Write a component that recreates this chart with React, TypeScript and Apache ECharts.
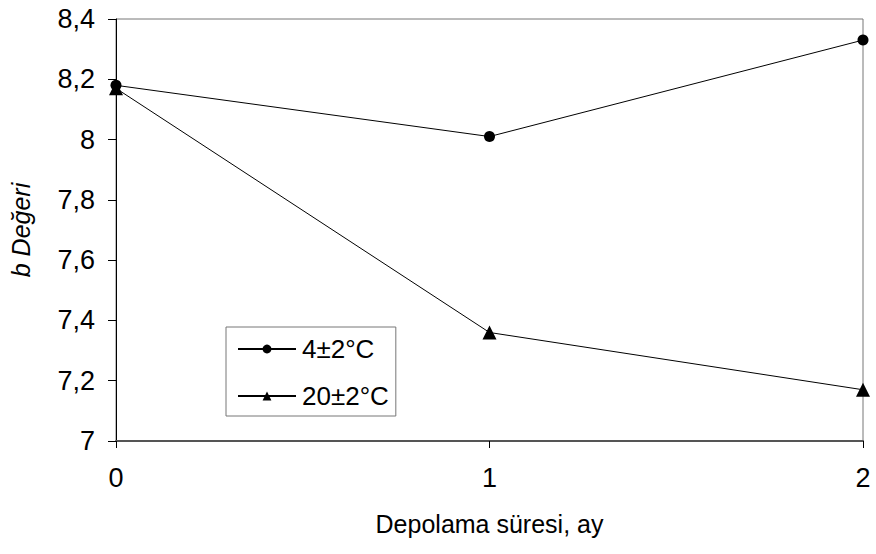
import React, { useEffect, useRef } from "react";
import * as echarts from "echarts";

const categories = ["0", "1", "2"];
const series4C = [8.18, 8.01, 8.33];
const series20C = [8.17, 7.36, 7.17];
const seriesNames = ["4±2°C", "20±2°C"];

const FONT = "Liberation Sans, Arial, sans-serif";

export default function App() {
  const ref = useRef<HTMLDivElement>(null);
  useEffect(() => {
    if (!ref.current) return;
    const chart = echarts.init(ref.current, undefined, { renderer: "svg" });
    chart.setOption({
      animation: false,
      backgroundColor: "#ffffff",
      textStyle: { fontFamily: FONT, color: "#000" },
      grid: {
        left: 116,
        right: 13,
        top: 19,
        bottom: 113,
        show: true,
        borderColor: "#777",
        borderWidth: 1,
      },
      legend: {
        left: 226,
        top: 327,
        orient: "vertical",
        itemWidth: 58,
        itemHeight: 11,
        itemGap: 21,
        padding: [9, 7, 7, 11],
        borderColor: "#777",
        borderWidth: 1,
        textStyle: { fontFamily: FONT, fontSize: 26, color: "#000", padding: [0, 0, 0, 1] },
        data: seriesNames,
      },
      xAxis: {
        type: "category",
        data: categories,
        boundaryGap: false,
        name: "Depolama süresi, ay",
        nameLocation: "middle",
        nameGap: 70,
        nameTextStyle: { fontFamily: FONT, fontSize: 25, color: "#000" },
        axisLine: { show: true, lineStyle: { color: "#555", width: 2 } },
        axisTick: { show: true, alignWithLabel: true, length: 7, lineStyle: { color: "#000" } },
        axisLabel: { fontFamily: FONT, fontSize: 27, color: "#000", margin: 23 },
        splitLine: { show: false },
      },
      yAxis: {
        type: "value",
        min: 7,
        max: 8.4,
        interval: 0.2,
        name: "b Değeri",
        nameLocation: "middle",
        nameGap: 83,
        nameTextStyle: { fontFamily: FONT, fontSize: 25, fontStyle: "italic", color: "#000" },
        axisLine: { show: true, lineStyle: { color: "#000", width: 1 } },
        axisTick: { show: true, length: 8, lineStyle: { color: "#000" } },
        axisLabel: {
          fontFamily: FONT,
          fontSize: 27,
          color: "#000",
          margin: 21,
          formatter: (v: number) => String(Math.round(v * 10) / 10).replace(".", ","),
        },
        splitLine: { show: false },
      },
      series: [
        {
          name: seriesNames[0],
          type: "line",
          data: series4C,
          symbol: "circle",
          symbolSize: 11,
          itemStyle: { color: "#000" },
          lineStyle: { color: "#000", width: 1 },
        },
        {
          name: seriesNames[1],
          type: "line",
          data: series20C,
          symbol: "triangle",
          symbolSize: 14,
          itemStyle: { color: "#000" },
          lineStyle: { color: "#000", width: 1 },
        },
      ],
    });
    return () => chart.dispose();
  }, []);
  return <div ref={ref} style={{ width: 876, height: 554, position: "absolute", left: 0, top: 0 }} />;
}
